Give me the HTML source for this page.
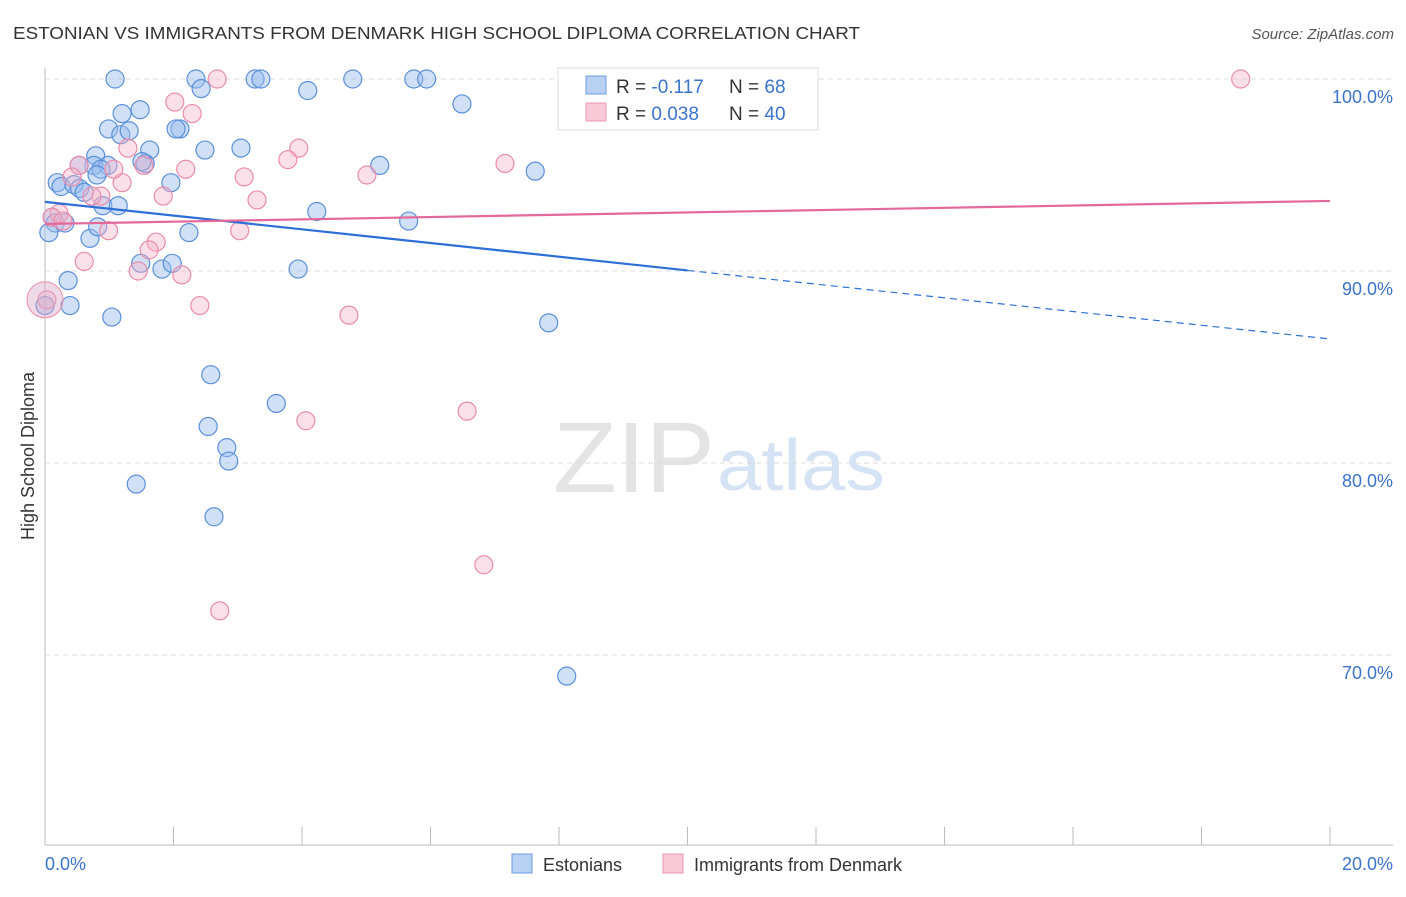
<!DOCTYPE html>
<html><head><meta charset="utf-8"><style>
body{margin:0;background:#fff;font-family:"Liberation Sans",sans-serif}
svg text{font-family:"Liberation Sans",sans-serif}
</style></head><body>
<svg id="c" width="1406" height="892" xmlns="http://www.w3.org/2000/svg">
<text x="13" y="39" font-size="17.5" fill="#333" textLength="847" lengthAdjust="spacingAndGlyphs">ESTONIAN VS IMMIGRANTS FROM DENMARK HIGH SCHOOL DIPLOMA CORRELATION CHART</text>
<text x="1394" y="39" font-size="15" fill="#555" font-style="italic" text-anchor="end">Source: ZipAtlas.com</text>
<text x="34" y="456" font-size="18" fill="#333" text-anchor="middle" transform="rotate(-90 34 456)">High School Diploma</text>
<g><text x="553" y="492" font-size="100" font-family="Liberation Serif" fill="#e4e4e4" textLength="162" lengthAdjust="spacingAndGlyphs">ZIP</text><text x="717" y="490" font-size="72" fill="#d6e3f5" textLength="168" lengthAdjust="spacingAndGlyphs">atlas</text></g>
<g id="grid"></g><g id="marks"></g><g id="lines"></g>
<g>
<rect x="558" y="68" width="260" height="62" fill="#fff" stroke="#ddd"/>
<rect x="586" y="76" width="20" height="18" fill="#b9d2f3" stroke="#6d9ae0"/>
<rect x="586" y="103" width="20" height="18" fill="#f9c9d8" stroke="#ec97b3"/>
<text x="616" y="93" font-size="19" fill="#333">R = <tspan fill="#3b73cc">-0.117</tspan></text>
<text x="729" y="93" font-size="19" fill="#333">N = <tspan fill="#3b73cc">68</tspan></text>
<text x="616" y="120" font-size="19" fill="#333">R = <tspan fill="#3b73cc">0.038</tspan></text>
<text x="729" y="120" font-size="19" fill="#333">N = <tspan fill="#3b73cc">40</tspan></text>
</g>
<g>
<rect x="512" y="854" width="20" height="19" fill="#b9d2f3" stroke="#6d9ae0"/>
<text x="543" y="871" font-size="18" fill="#333">Estonians</text>
<rect x="663" y="854" width="20" height="19" fill="#f9c9d8" stroke="#ec97b3"/>
<text x="694" y="871" font-size="18" fill="#333">Immigrants from Denmark</text>
</g>
</svg>
<script>
const yTicks=[100,90,80,70];
const yTickLabels=["100.0%","90.0%","80.0%","70.0%"];
const xTickLabels=["0.0%","20.0%"];
const estX=[1.09,2.35,2.43,3.27,3.36,4.09,4.79,5.74,5.94,6.49,1.2,1.48,0.99,1.18,1.31,2.1,2.04,1.63,2.49,3.05,0.79,0.76,0.98,0.87,1.56,1.51,0.53,0.19,0.25,0.45,0.54,0.61,0.81,1.96,5.21,7.63,0.9,1.14,4.23,0.11,0.16,0.31,0.06,0.7,0.82,2.24,5.66,0.36,0.39,1.82,1.98,1.49,3.94,1.04,7.84,0,2.58,3.6,2.54,2.83,2.86,1.42,2.63,8.12];
const estY=[100,100,99.5,100,100,99.4,100,100,100,98.7,98.2,98.4,97.4,97.1,97.3,97.4,97.4,96.3,96.3,96.4,96,95.5,95.5,95.3,95.6,95.7,95.5,94.6,94.4,94.5,94.3,94.1,95,94.6,95.5,95.2,93.4,93.4,93.1,92.8,92.5,92.5,92,91.7,92.3,92,92.6,89.5,88.2,90.1,90.4,90.4,90.1,87.6,87.3,88.2,84.6,83.1,81.9,80.8,80.1,78.9,77.2,68.9];
const denX=[2.68,18.61,2.02,2.29,3.95,3.78,1.29,2.19,3.1,5.01,7.16,0.53,0.42,1.2,1.54,1.07,1.84,0.87,3.3,0.22,0.11,0.99,1.73,1.62,3.03,0.61,1.45,2.13,2.41,4.73,0.03,4.06,6.57,6.83,2.72,0.73,0.28];
const denY=[100,100,98.8,98.2,96.4,95.8,96.4,95.3,94.9,95,95.6,95.5,94.9,94.6,95.5,95.3,93.9,93.9,93.7,93,92.8,92.1,91.5,91.1,92.1,90.5,90,89.8,88.2,87.7,88.5,82.2,82.7,74.7,72.3,93.9,92.6];
const estTrend=[93.6,86.46];
const denTrend=[92.45,93.65];
const NS="http://www.w3.org/2000/svg";
const xs=v=>45+v/20*1285, ys=v=>79+(100-v)*19.2;
function mk(t,a,p){const e=document.createElementNS(NS,t);for(const k in a)e.setAttribute(k,a[k]);p.appendChild(e);return e;}
const grid=document.getElementById('grid');
yTicks.forEach((t,i)=>{
 const g=mk('line',{x1:45,x2:1393,y1:ys(t),y2:ys(t),stroke:'#ddd','stroke-dasharray':'5,4'},grid);
 
 
 const l=mk('text',{x:1393,y:ys(t)+24,'font-size':18,fill:'#3b73cc','text-anchor':'end'},grid);l.textContent=yTickLabels[i];
 
 
});
const ax=mk('line',{x1:45,x2:45,y1:68,y2:845,stroke:'#bbb'},grid);


const bx=mk('line',{x1:45,x2:1393,y1:845,y2:845,stroke:'#bbb'},grid);


for(let i=0;i<=10;i++){const t=mk('line',{x1:xs(i*2),x2:xs(i*2),y1:827,y2:845,stroke:'#bbb'},grid);
 
 }
[[0,'start'],[20,'end']].forEach((p,i)=>{const l=mk('text',{x:i?1393:45,y:870,'font-size':18,fill:'#3b73cc','text-anchor':p[1]},grid);l.textContent=xTickLabels[i];
 
 });
const marks=document.getElementById('marks');
estX.forEach((x,i)=>{const c=mk('circle',{cx:xs(x),cy:ys(estY[i]),r:9,fill:'rgba(150,188,238,0.45)',stroke:'#5b8fd9','stroke-width':1.2},marks);
 
 });
denX.forEach((x,i)=>{const c=mk('circle',{cx:xs(x),cy:ys(denY[i]),r:9,fill:'rgba(246,178,200,0.4)',stroke:'#ea8cab','stroke-width':1.2},marks);
 
 });
const big=mk('circle',{cx:45,cy:ys(88.5),r:18,fill:'rgba(220,170,200,0.45)',stroke:'#ea8cab'},marks);


const lines=document.getElementById('lines');
const ey=x=>estTrend[0]+(estTrend[1]-estTrend[0])*x/20;
const l1=mk('line',{x1:xs(0),y1:ys(ey(0)),x2:xs(10),y2:ys(ey(10)),stroke:'#2d6fd6','stroke-width':2.2},lines);


const l2=mk('line',{x1:xs(10),y1:ys(ey(10)),x2:xs(20),y2:ys(ey(20)),stroke:'#2d6fd6','stroke-width':1.2,'stroke-dasharray':'7,5'},lines);


const l3=mk('line',{x1:xs(0),y1:ys(denTrend[0]),x2:xs(20),y2:ys(denTrend[1]),stroke:'#e4689a','stroke-width':2.2},lines);


</script>
</body></html>
